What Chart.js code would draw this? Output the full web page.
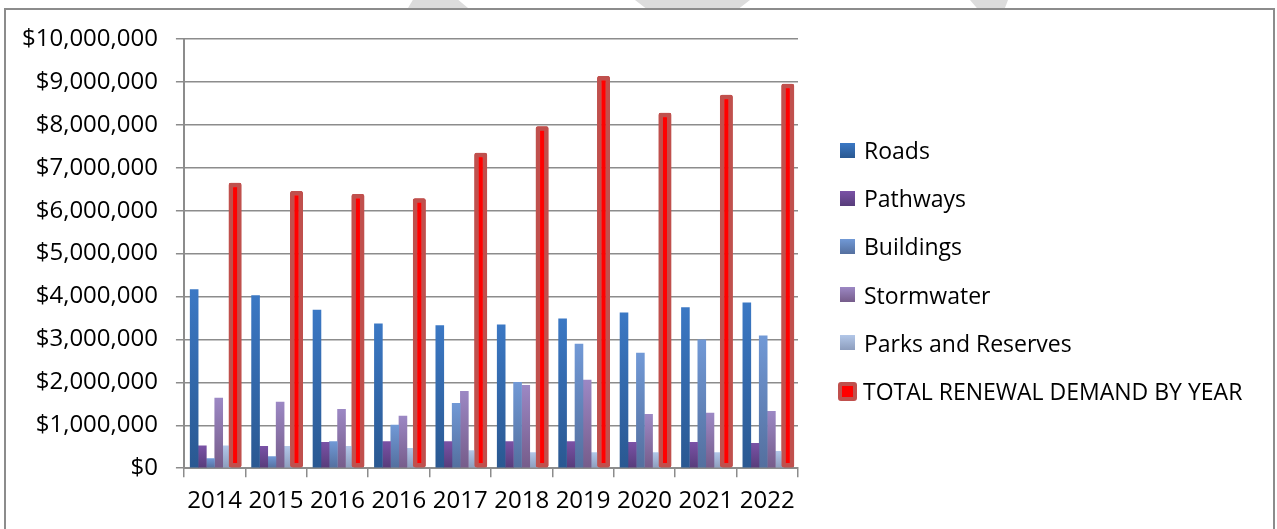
<!DOCTYPE html>
<html>
<head>
<meta charset="utf-8">
<script src="https://cdn.jsdelivr.net/npm/chart.js@4.4.1/dist/chart.umd.min.js"></script>
<style>
  html, body { margin: 0; padding: 0; background: #fff; overflow: hidden; }
  #frame { position: absolute; left: 4px; top: 8px; width: 1271px; height: 600px;
           box-sizing: border-box; border: 2px solid #8c8c8c; border-bottom: none; }
  .wm { position: absolute; top: 0; height: 8px; background: #dcdcdc; }
  #wrap { position: absolute; left: 0; top: 0; width: 1277px; height: 529px; }
  #legend { position: absolute; left: 838px; top: 126px; margin: 0; padding: 0; list-style: none;
            font-family: 'Open Sans', 'Liberation Sans', sans-serif; font-size: 23px; color: #000; }
  #legend li { height: 48.2px; display: flex; align-items: center; white-space: nowrap; }
  #legend .sw { display: inline-block; width: 15px; height: 15px; margin: 0 9px 0 2px; box-sizing: border-box; }
  #legend .sw.total { width: 19px; height: 19px; margin: 0 6px 0 0; border: 4.5px solid #c0504d; border-radius: 3px; }
</style>
</head>
<body>
<div class="wm" style="left:408px;width:60px;clip-path:polygon(8% 0,84% 0,100% 100%,0 100%);"></div>
<div class="wm" style="left:635px;width:115px;clip-path:polygon(0 0,100% 0,91% 100%,9% 100%);"></div>
<div class="wm" style="left:970px;width:38px;clip-path:polygon(0 0,100% 0,92% 100%,18% 100%);"></div>
<div id="frame"></div>
<div id="wrap"><canvas id="renewal-chart"></canvas></div>
<ul id="legend"></ul>
<script>
var ctx1 = document.getElementById('renewal-chart').getContext('2d');

// years as printed on the axis (2016 really is there twice)
var years = ['2014', '2015', '2016', '2016', '2017', '2018', '2019', '2020', '2021', '2022'];

var roads      = [4170000, 4030000, 3690000, 3370000, 3330000, 3350000, 3490000, 3630000, 3750000, 3860000];
var pathways   = [530000, 520000, 610000, 630000, 630000, 630000, 630000, 610000, 610000, 590000];
var buildings  = [230000, 280000, 630000, 1010000, 1520000, 2010000, 2900000, 2690000, 3000000, 3090000];
var stormwater = [1640000, 1550000, 1380000, 1220000, 1800000, 1940000, 2060000, 1260000, 1290000, 1330000];
var parks      = [530000, 520000, 520000, 470000, 420000, 370000, 370000, 370000, 370000, 400000];
var totals     = [6650000, 6460000, 6390000, 6290000, 7350000, 7970000, 9140000, 8280000, 8700000, 8960000];

var yTicks = { min: 0, max: 10000000, step: 1000000 };

var axisGrey = '#8c8c8c';
var axisFont = { family: "'Open Sans', 'Liberation Sans', sans-serif", size: 24 };

// excel-ish vertical gradient per bar, lighter on top
function barGradient(top, bottom) {
  var fn = function(c) {
    var chart = c.chart;
    if (c.raw === undefined || !chart.chartArea) return top;
    var y = chart.scales.y;
    var yTop = y.getPixelForValue(c.raw);
    var yBase = y.getPixelForValue(0);
    if (!isFinite(yTop) || yTop === yBase) return top;
    var g = chart.ctx.createLinearGradient(0, yTop, 0, yBase);
    g.addColorStop(0, top);
    g.addColorStop(1, bottom);
    return g;
  };
  fn.swatch = 'linear-gradient(' + top + ',' + bottom + ')';
  return fn;
}

// draw the total bars again so they sit over the parks bars
var totalsOnTop = {
  id: 'totalsOnTop',
  afterDatasetsDraw: function(chart) {
    var meta = chart.getDatasetMeta(5);
    if (!meta.hidden) meta.controller.draw();
  }
};

// legend as html, the canvas one can't be this wide on the side
var htmlLegend = {
  id: 'htmlLegend',
  afterUpdate: function(chart) {
    var ul = document.getElementById('legend');
    ul.innerHTML = '';
    chart.data.datasets.forEach(function(ds) {
      var li = document.createElement('li');
      var sw = document.createElement('span');
      sw.className = 'sw';
      if (typeof ds.backgroundColor === 'function') {
        sw.style.background = ds.backgroundColor.swatch;
      } else {
        sw.className += ' total';
        sw.style.background = ds.backgroundColor;
      }
      li.appendChild(sw);
      li.appendChild(document.createTextNode(ds.label));
      ul.appendChild(li);
    });
  }
};

var barChart = new Chart(ctx1, {
  type: 'bar',
  data: {
    labels: years,
    datasets: [{
      label: 'Roads',
      data: roads,
      backgroundColor: barGradient('#3b78c4', '#2a5891')
    }, {
      label: 'Pathways',
      data: pathways,
      backgroundColor: barGradient('#7a52a6', '#573c7a')
    }, {
      label: 'Buildings',
      data: buildings,
      backgroundColor: barGradient('#7199d6', '#546f9e')
    }, {
      label: 'Stormwater',
      data: stormwater,
      backgroundColor: barGradient('#9c88c4', '#765c8a')
    }, {
      label: 'Parks and Reserves',
      data: parks,
      backgroundColor: barGradient('#b2c7e8', '#8d9dbd')
    }, {
      label: 'TOTAL RENEWAL DEMAND BY YEAR',
      data: totals,
      backgroundColor: '#ff0000',
      borderColor: '#c0504d',
      borderWidth: 4.5,
      borderSkipped: false,
      borderRadius: 2,
      barPercentage: 1.58
    }]
  },
  options: {
    responsive: true,
    maintainAspectRatio: false,
    animation: false,
    layout: { padding: { left: 4, top: 39, right: 479, bottom: 3 } },
    datasets: {
      bar: { categoryPercentage: 0.8, barPercentage: 1.05 }
    },
    plugins: {
      tooltip: { enabled: false },
      legend: { display: false }
    },
    scales: {
      x: {
        grid: { drawOnChartArea: false, drawTicks: true, tickLength: 9, color: axisGrey, lineWidth: 1.5 },
        border: { color: axisGrey, width: 2 },
        ticks: { font: axisFont, color: '#000', padding: 10, maxRotation: 0, autoSkip: false }
      },
      y: {
        min: yTicks.min,
        max: yTicks.max,
        grid: { color: axisGrey, lineWidth: 1.5, tickLength: 8 },
        border: { color: axisGrey, width: 2 },
        ticks: {
          stepSize: yTicks.step,
          font: axisFont,
          color: '#000',
          padding: 18,
          callback: function(v) { return '$' + v.toLocaleString('en-US'); }
        }
      }
    }
  },
  plugins: [totalsOnTop, htmlLegend]
});
</script>
</body>
</html>
